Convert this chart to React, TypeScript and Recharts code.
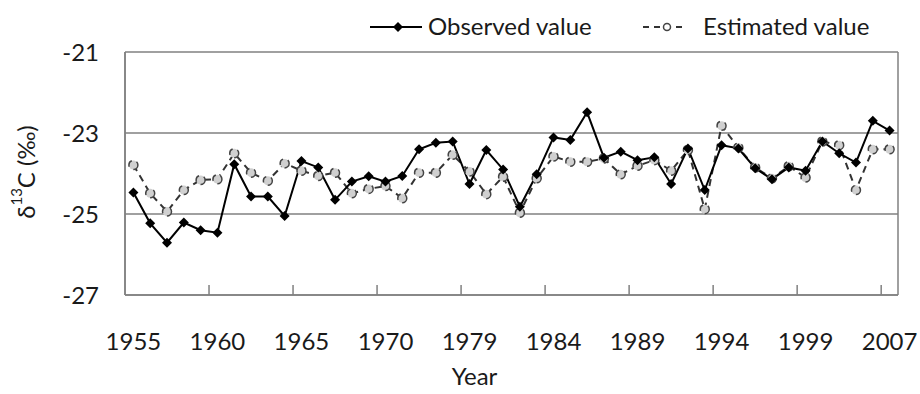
import { LineChart, Line, XAxis, YAxis, CartesianGrid, Legend, Label } from 'recharts';

const years = [
  '1955', '1956', '1957', '1958', '1959', '1960', '1961', '1962', '1963', '1964',
  '1965', '1966', '1967', '1968', '1969', '1970', '1975', '1976', '1977', '1978',
  '1979', '1980', '1981', '1982', '1983', '1984', '1985', '1986', '1987', '1988',
  '1989', '1990', '1991', '1992', '1993', '1994', '1995', '1996', '1997', '1998',
  '1999', '2001', '2003', '2005', '2006', '2007',
];

const observed = [
  -24.47, -25.23, -25.71, -25.21, -25.4, -25.46, -23.77, -24.57, -24.57, -25.05,
  -23.69, -23.85, -24.65, -24.2, -24.07, -24.2, -24.06, -23.4, -23.24, -23.21,
  -24.26, -23.42, -23.9, -24.82, -24.02, -23.11, -23.17, -22.49, -23.61, -23.46,
  -23.67, -23.6, -24.26, -23.38, -24.41, -23.3, -23.38, -23.87, -24.14, -23.85,
  -23.93, -23.21, -23.5, -23.73, -22.7, -22.94,
];

const estimated = [
  -23.79, -24.49, -24.94, -24.41, -24.16, -24.14, -23.5, -23.98, -24.18, -23.75,
  -23.93, -24.06, -23.98, -24.49, -24.38, -24.31, -24.61, -23.98, -23.98, -23.54,
  -23.95, -24.51, -24.08, -24.97, -24.12, -23.58, -23.71, -23.71, -23.63, -24.02,
  -23.81, -23.67, -23.93, -23.42, -24.88, -22.82, -23.36, -23.85, -24.12, -23.82,
  -24.1, -23.21, -23.3, -24.41, -23.4, -23.4,
];

const yTicks = [-27, -25, -23, -21];

const data = years.map((year, i) => ({ year, observed: observed[i], estimated: estimated[i] }));

const FONT = 'Lato, "Open Sans", sans-serif';
const GRID = '#808080';
const TEXT = '#1a1a1a';
const HALF_BAND = 8.41;

const Diamond = (props: any) => {
  const { cx, cy } = props;
  if (cx == null || cy == null) return null;
  const s = 5;
  return <polygon points={`${cx},${cy - s} ${cx + s},${cy} ${cx},${cy + s} ${cx - s},${cy}`} fill="#000" />;
};

const XTick = (props: any) => {
  const { x, y, payload, index } = props;
  return (
    <g>
      {index > 0 && (
        <line x1={x - HALF_BAND} x2={x - HALF_BAND} y1={y} y2={y - 10} stroke={GRID} strokeWidth={1.5} />
      )}
      <text x={x} y={y + 55} textAnchor="middle" fontSize={24} fill={TEXT} fontFamily={FONT}>
        {payload.value}
      </text>
    </g>
  );
};

const YTitle = () => (
  <text
    x={25}
    y={172}
    transform="rotate(-90 25 172)"
    textAnchor="middle"
    dominantBaseline="central"
    fontSize={24}
    fill={TEXT}
    fontFamily={FONT}
  >
    δ<tspan fontSize={15} dy={-9}>13</tspan>
    <tspan dy={9}>C (‰)</tspan>
  </text>
);

const LegendContent = () => (
  <svg width={560} height={45} style={{ overflow: 'visible' }}>
    <line x1={10} x2={62} y1={27} y2={27} stroke="#000" strokeWidth={2} />
    <Diamond cx={38} cy={27} />
    <text x={68} y={35} fontSize={24} fill={TEXT} fontFamily={FONT}>Observed value</text>
    <line x1={283} x2={327} y1={27} y2={27} stroke="#333" strokeWidth={2} strokeDasharray="6 5" />
    <circle cx={307} cy={27} r={3.5} fill="#fff" stroke="#444" strokeWidth={1.5} />
    <text x={343} y={35} fontSize={24} fill={TEXT} fontFamily={FONT}>Estimated value</text>
  </svg>
);

export default function App() {
  return (
    <div style={{ position: 'absolute', left: 0, top: 0, width: 920, height: 394, background: '#fff' }}>
      <LineChart width={920} height={394} data={data} margin={{ top: 52, right: 22, left: 0, bottom: 0 }}>
        <CartesianGrid
          stroke={GRID}
          strokeWidth={1.5}
          horizontal
          verticalCoordinatesGenerator={({ offset }: any) => [offset.left, offset.left + offset.width]}
        />
        <XAxis
          dataKey="year"
          interval={4}
          height={99}
          tickLine={false}
          tickSize={0}
          tickMargin={0}
          padding={{ left: HALF_BAND, right: HALF_BAND }}
          axisLine={{ stroke: GRID, strokeWidth: 1.5 }}
          tick={<XTick />}
        >
          <Label
            content={({ viewBox }: any) => (
              <text
                x={viewBox.x + viewBox.width / 2 - 37}
                y={385}
                textAnchor="middle"
                fontSize={24}
                fill={TEXT}
                fontFamily={FONT}
              >
                Year
              </text>
            )}
          />
        </XAxis>
        <YAxis
          width={125}
          domain={[-27, -21]}
          ticks={yTicks}
          tickLine={false}
          tickSize={0}
          tickMargin={26}
          axisLine={{ stroke: GRID, strokeWidth: 1.5 }}
          tick={{ fontSize: 24, fill: TEXT, fontFamily: FONT }}
          label={<YTitle />}
        />
        <Legend
          layout="horizontal"
          verticalAlign="middle"
          align="center"
          wrapperStyle={{ top: 0, left: 360, width: 560, height: 45 }}
          content={<LegendContent />}
        />
        <Line
          dataKey="estimated"
          stroke="#333"
          strokeWidth={2}
          strokeDasharray="7 5"
          dot={{ r: 4.5, fill: '#d0d0d0', stroke: '#444', strokeWidth: 1.5 }}
          isAnimationActive={false}
        />
        <Line
          dataKey="observed"
          stroke="#000"
          strokeWidth={2}
          dot={<Diamond />}
          isAnimationActive={false}
        />
      </LineChart>
    </div>
  );
}
